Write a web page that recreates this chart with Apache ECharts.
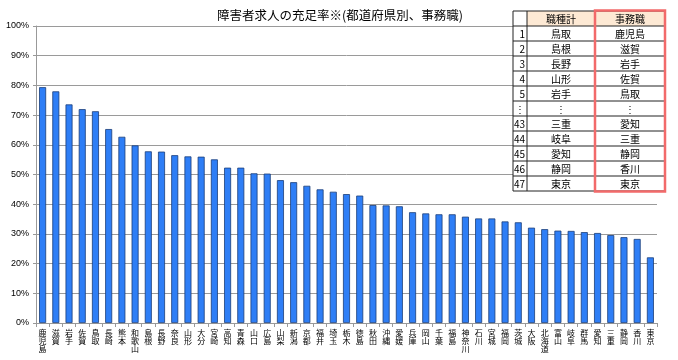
<!DOCTYPE html>
<html><head><meta charset="utf-8">
<script src="https://cdn.jsdelivr.net/npm/echarts@6/dist/echarts.min.js"></script>
<style>html,body{margin:0;padding:0;background:#fff}#c{width:678px;height:360px}</style>
</head><body><div id="c"></div>
<script>
const titleText = '障害者求人の充足率※(都道府県別、事務職)';
const categories = ['鹿児島','滋賀','岩手','佐賀','鳥取','長崎','熊本','和歌山','島根','長野','奈良','山形','大分','宮崎','高知','青森','山口','広島','山梨','新潟','京都','福井','埼玉','栃木','徳島','秋田','沖縄','愛媛','兵庫','岡山','千葉','福島','神奈川','石川','宮城','福岡','茨城','大阪','北海道','富山','岐阜','群馬','愛知','三重','静岡','香川','東京'];
const values = [79.4,78.0,73.6,72.0,71.3,65.3,62.7,59.8,57.8,57.7,56.5,56.1,56.0,55.1,52.3,52.3,50.4,50.3,48.1,47.4,46.2,45.0,44.2,43.4,42.9,39.7,39.6,39.3,37.3,36.9,36.6,36.6,35.8,35.2,35.2,34.2,33.9,32.1,31.6,31.1,31.0,30.6,30.3,29.6,28.9,28.3,22.1];
const tableHeader = ['', '職種計', '事務職'];
const tableRanks = ['1','2','3','4','5','⋮','43','44','45','46','47'];
const tableTotal = ['鳥取','島根','長野','山形','岩手','⋮','三重','岐阜','愛知','静岡','東京'];
const tableClerical = ['鹿児島','滋賀','岩手','佐賀','鳥取','⋮','愛知','三重','静岡','香川','東京'];

const FONT = '"Noto Sans CJK JP", sans-serif';
const tx = 513, ty = 11, rowH = 15, colX = [513, 527, 595, 665];
const g = [];
const nRows = tableRanks.length + 1;
g.push({type:'rect', shape:{x:tx, y:ty, width:colX[3]-tx, height:rowH*nRows}, style:{fill:'#fff', stroke:null}, z:10});
g.push({type:'rect', shape:{x:colX[1], y:ty, width:colX[3]-colX[1], height:rowH}, style:{fill:'#fde9d4'}, z:11});
for (let r = 0; r <= nRows; r++) {
  g.push({type:'line', shape:{x1:tx, y1:ty+r*rowH, x2:colX[3], y2:ty+r*rowH}, style:{stroke:'#222', lineWidth:1}, z:12});
}
for (let c = 0; c < colX.length; c++) {
  g.push({type:'line', shape:{x1:colX[c], y1:ty, x2:colX[c], y2:ty+rowH*nRows}, style:{stroke:'#222', lineWidth:1}, z:12});
}
function cellText(txt, c, r, align) {
  const x = align === 'right' ? colX[c+1]-2 : (colX[c]+colX[c+1])/2;
  g.push({type:'text', x:x, y:ty+r*rowH+rowH/2+0.5, style:{text:txt, align:align||'center', verticalAlign:'middle', font:'10px '+FONT, fill:'#000'}, z:13});
}
tableHeader.forEach((h,i)=>{ if(h) cellText(h, i, 0); });
tableRanks.forEach((v,i)=>cellText(v, 0, i+1, 'right'));
tableTotal.forEach((v,i)=>cellText(v, 1, i+1));
tableClerical.forEach((v,i)=>cellText(v, 2, i+1));
g.push({type:'rect', shape:{x:colX[2], y:ty-0.5, width:colX[3]-colX[2], height:rowH*nRows+1}, style:{fill:null, stroke:'#f26a6a', lineWidth:2.5}, z:14});

const chart = echarts.init(document.getElementById('c'), null, {renderer:'canvas'});
chart.setOption({
  animation:false,
  title:{text:titleText, left:335, top:4, textAlign:'center', textStyle:{fontSize:12.5, fontWeight:'normal', color:'#000', fontFamily:FONT}},
  grid:{left:36, right:21, top:26, bottom:37, containLabel:false},
  xAxis:{type:'category', data:categories,
    axisLine:{lineStyle:{color:'#999'}},
    axisTick:{show:true, interval:0, length:4, lineStyle:{color:'#999'}},
    axisLabel:{interval:0, fontSize:8, lineHeight:8, color:'#000', fontFamily:FONT, margin:6,
      formatter: v => v.split('').join('\n')}},
  yAxis:{type:'value', min:0, max:100, interval:10,
    axisLine:{show:true, lineStyle:{color:'#999'}},
    axisTick:{show:true, length:3, lineStyle:{color:'#999'}},
    splitLine:{lineStyle:{color:'#9a9a9a'}},
    axisLabel:{formatter:'{value}%', fontSize:9, color:'#000', fontFamily:'"Liberation Sans", sans-serif', margin:7}},
  series:[{type:'bar', data:values, barWidth:7,
    itemStyle:{color:'#2e7ef6', borderColor:'#1b3e78', borderWidth:0.8}}],
  graphic:g
});
</script></body></html>
